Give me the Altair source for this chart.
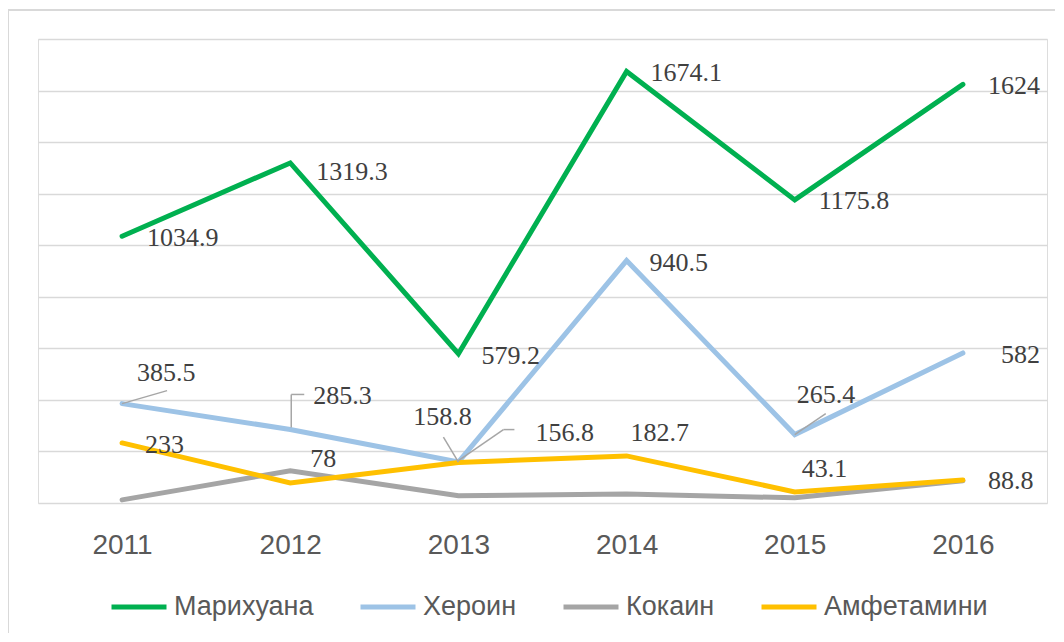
import altair as alt
import pandas as pd

years = ["2011", "2012", "2013", "2014", "2015", "2016"]
series_names = ["Марихуана", "Хероин", "Кокаин", "Амфетамини"]
marijuana = [1034.9, 1319.3, 579.2, 1674.1, 1175.8, 1624]
heroin = [385.5, 285.3, 158.8, 940.5, 265.4, 582]
cocaine = [12, 125, 28, 35, 20, 86]
amphetamine = [233, 78, 156.8, 182.7, 43.1, 88.8]
series_colors = ["#00B050", "#9DC3E6", "#A5A5A5", "#FFC000"]

values = [marijuana, heroin, cocaine, amphetamine]
rows = []
for name, vals in zip(series_names, values):
    for yr, v in zip(years, vals):
        rows.append({"year": yr, "series": name, "value": v, "label": f"{v:g}"})
df = pd.DataFrame(rows)

# data-label styling: (series, year, dx, dy, align)
label_style = [
    ("Марихуана", "2011", 25, 2, "left"),
    ("Марихуана", "2012", 26, 9, "left"),
    ("Марихуана", "2013", 23, 2, "left"),
    ("Марихуана", "2014", 24, 2, "left"),
    ("Марихуана", "2015", 24, 1, "left"),
    ("Марихуана", "2016", 25, 2, "left"),
    ("Хероин", "2011", 15, -31, "left"),
    ("Хероин", "2012", 23, -33, "left"),
    ("Хероин", "2013", -16, -45, "center"),
    ("Хероин", "2014", 23, 2, "left"),
    ("Хероин", "2015", 2, -40, "left"),
    ("Хероин", "2016", 38, 2, "left"),
    ("Амфетамини", "2011", 23, 2, "left"),
    ("Амфетамини", "2012", 20, -24, "left"),
    ("Амфетамини", "2013", 77, -30, "left"),
    ("Амфетамини", "2014", 4, -23, "left"),
    ("Амфетамини", "2015", 7, -23, "left"),
    ("Амфетамини", "2016", 25, 1, "left"),
]
# leader lines: (series, year, x0, y0, x1, y1) pixel offsets from the point
leader_style = [
    ("Хероин", "2011", 0, 0, 45, -13),
    ("Хероин", "2012", 1, -2, 1, -35),
    ("Хероин", "2012", 1, -35, 14, -35),
    ("Хероин", "2013", 0, 0, -15, -25),
    ("Амфетамини", "2013", 0, -2, 45, -33),
    ("Амфетамини", "2013", 45, -33, 56, -33),
    ("Хероин", "2015", 0, 0, 31, -21),
]

W, H = 1009, 464

x_enc = alt.X("year:O", scale=alt.Scale(type="point", padding=0.5),
              axis=alt.Axis(title=None, labelAngle=0, ticks=False, domain=False,
                            grid=False, labelFont="Liberation Sans", labelFontSize=28,
                            labelColor="#595959", labelPadding=28))
y_enc = alt.Y("value:Q", scale=alt.Scale(domain=[0, 1800], nice=False),
              axis=alt.Axis(title=None, labels=False, ticks=False, domain=False,
                            grid=True, gridColor="#D9D9D9", gridWidth=1.5,
                            values=list(range(0, 1801, 200))))
color_enc = alt.Color("series:N",
                      scale=alt.Scale(domain=series_names, range=series_colors),
                      legend=alt.Legend(title=None, orient="none", direction="horizontal",
                                        legendX=71, legendY=538,
                                        symbolType="stroke", symbolSize=3025,
                                        symbolStrokeWidth=5, labelOffset=5,
                                        labelFont="Liberation Sans", labelFontSize=27,
                                        labelLimit=400,
                                        labelColor="#595959", columnPadding=36))

base = alt.Chart(df)

layers = []
for name in series_names:
    layers.append(
        base.transform_filter(alt.datum.series == name)
        .mark_line(strokeWidth=5, strokeCap="round")
        .encode(x=x_enc, y=y_enc, color=color_enc)
    )

for s, yr, x0, y0, x1, y1 in leader_style:
    layers.append(
        base.transform_filter((alt.datum.series == s) & (alt.datum.year == yr))
        .mark_rule(color="#A6A6A6", strokeWidth=1.5,
                   xOffset=x0, yOffset=y0, x2Offset=x1, y2Offset=y1)
        .encode(x="year:O", y="value:Q", x2="year:O", y2="value:Q")
    )

for s, yr, dx, dy, al in label_style:
    layers.append(
        base.transform_filter((alt.datum.series == s) & (alt.datum.year == yr))
        .mark_text(dx=dx, dy=dy, align=al, baseline="middle",
                   font="Liberation Serif", fontSize=26, color="#404040")
        .encode(x="year:O", y="value:Q", text="label:N")
    )

# chart frame (top and left edges)
frame_top = alt.Chart(df).mark_rule(color="#D9D9D9", strokeWidth=1.5).encode(
    x=alt.value(-30), x2=alt.value(W + 30), y=alt.value(-29))
frame_left = alt.Chart(df).mark_rule(color="#D9D9D9", strokeWidth=1.5).encode(
    x=alt.value(-30), y=alt.value(-29), y2=alt.value(H + 160))

chart = alt.layer(frame_top, frame_left, *layers).properties(
    width=W, height=H,
    autosize=alt.AutoSizeParams(type="none"),
    padding={"left": 30, "top": 31, "right": 8, "bottom": 130},
).configure_view(stroke=None).configure(background="white")

chart.save("out.html", embed_options={"renderer": "svg", "actions": False})
